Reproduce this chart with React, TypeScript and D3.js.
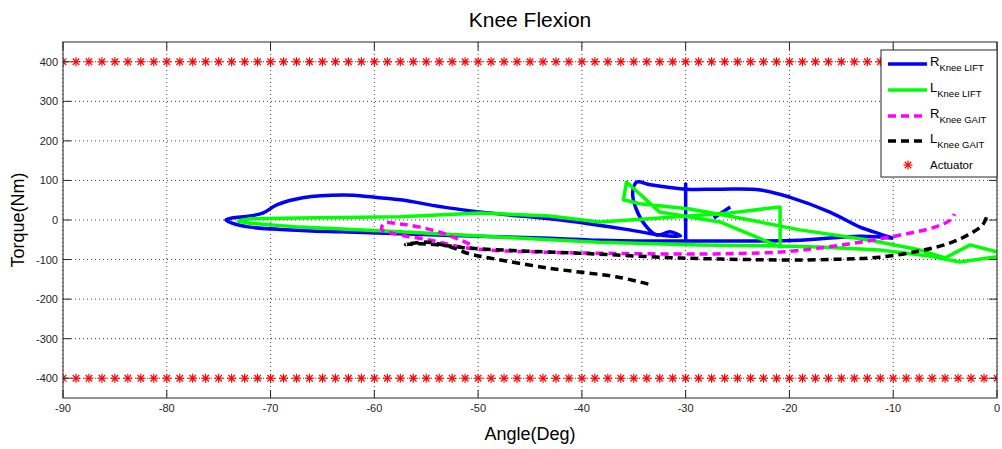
import React from 'react';
import * as d3 from 'd3';

// Knee flexion: torque (Nm) vs angle (deg)
const xTicks = [-90, -80, -70, -60, -50, -40, -30, -20, -10, 0];
const yTicks = [400, 300, 200, 100, 0, -100, -200, -300, -400];

const rKneeLift: [number, number][] = [
  [-10.0, -46], [-13.2, -41], [-19.0, -51], [-23.8, -53], [-28.6, -53], [-33.4, -53],
  [-38.3, -51], [-43.1, -46], [-49.8, -41], [-57.5, -35], [-63.3, -30], [-68.1, -25],
  [-72.0, -18], [-73.7, -8], [-74.3, 0], [-73.7, 5], [-72.0, 10], [-70.7, 18],
  [-69.4, 38], [-66.9, 56], [-63.0, 63], [-60.1, 58], [-57.5, 51], [-52.7, 30],
  [-47.9, 15], [-43.1, 3], [-39.2, -10], [-35.4, -25], [-32.5, -38], [-30.5, -41],
  [-31.5, -30], [-32.8, -38], [-33.9, -13], [-34.8, 30], [-35.1, 71], [-34.7, 96],
  [-33.4, 89], [-30.0, 78], [-26.7, 78], [-22.8, 76], [-20.0, 58], [-16.1, 20],
  [-13.2, -18], [-11.3, -35], [-10.0, -46],
];
const rKneeLiftSpike: [number, number][] = [[-30.0, 94], [-30.0, -50]];
const rKneeLiftStub: [number, number][] = [[-27.3, 5], [-25.7, 33]];

const lKneeLift: [number, number][] = [
  [0.5, -91], [-3.6, -106], [-6.5, -91], [-11.3, -76], [-17.1, -68], [-20.9, -66],
  [-28.6, -63], [-38.3, -56], [-47.9, -43], [-57.5, -30], [-67.2, -18], [-72.0, -8],
  [-73.1, -3], [-72.0, 3], [-67.2, 5], [-57.5, 8], [-49.8, 18], [-43.1, 10],
  [-38.3, -5], [-32.5, 5], [-25.7, 18], [-20.9, 33], [-20.9, -68], [-26.7, -5],
  [-32.5, 20], [-35.7, 96], [-36.0, 51], [-34.4, 41], [-29.6, 28], [-24.8, 5],
  [-19.0, -25], [-12.2, -51], [-7.4, -76], [-5.0, -96], [-2.6, -63], [0.5, -84],
];

const rKneeGait: [number, number][] = [
  [-50.8, -61], [-53.2, -35], [-55.6, -18], [-57.5, -10], [-59.0, -8], [-59.3, -23],
  [-58.0, -35], [-54.6, -51], [-51.7, -68], [-48.9, -76], [-44.0, -81], [-38.3, -84],
  [-28.6, -86], [-20.9, -81], [-17.1, -71], [-13.2, -56], [-9.3, -38], [-6.0, -18],
  [-4.5, 0], [-4.1, 15],
];

const lKneeGait: [number, number][] = [
  [-33.6, -162], [-36.6, -144], [-43.1, -122], [-48.9, -96], [-50.8, -86], [-52.7, -68],
  [-54.9, -56], [-57.0, -62], [-55.5, -60], [-52.7, -66], [-50.8, -71], [-46.0, -78],
  [-40.2, -84], [-30.5, -96], [-20.0, -101], [-15.1, -99], [-11.3, -94], [-7.4, -78],
  [-4.5, -58], [-2.6, -35], [-1.4, -13], [-1.0, 8],
];

const actuatorLevels = [400, -400];
const actuatorAngles = [
  -90, -88.75, -87.5, -86.25, -85, -83.75, -82.5, -81.25, -80, -78.75, -77.5, -76.25,
  -75, -73.75, -72.5, -71.25, -70, -68.75, -67.5, -66.25, -65, -63.75, -62.5, -61.25,
  -60, -58.75, -57.5, -56.25, -55, -53.75, -52.5, -51.25, -50, -48.75, -47.5, -46.25,
  -45, -43.75, -42.5, -41.25, -40, -38.75, -37.5, -36.25, -35, -33.75, -32.5, -31.25,
  -30, -28.75, -27.5, -26.25, -25, -23.75, -22.5, -21.25, -20, -18.75, -17.5, -16.25,
  -15, -13.75, -12.5, -11.25, -10, -8.75, -7.5, -6.25, -5, -3.75, -2.5, -1.25, 0,
];

const FONT = 'Liberation Sans, Arial, Helvetica, sans-serif';

function Star({ x, y, r = 4.5 }: { x: number; y: number; r?: number }) {
  const d = r * 0.72;
  return (
    <g stroke="#ff0000" strokeWidth={1.2}>
      <line x1={x - r} y1={y} x2={x + r} y2={y} />
      <line x1={x} y1={y - r} x2={x} y2={y + r} />
      <line x1={x - d} y1={y - d} x2={x + d} y2={y + d} />
      <line x1={x - d} y1={y + d} x2={x + d} y2={y - d} />
    </g>
  );
}

export default function App() {
  const W = 1002, H = 449;
  const L = 63, R = 997, T = 42, B = 398;

  const x = d3.scaleLinear().domain([-90, 0]).range([L, R]);
  const y = d3.scaleLinear().domain([-450, 450]).range([B, T]);
  const smooth = d3.line<[number, number]>().x(d => x(d[0])).y(d => y(d[1]))
    .curve(d3.curveCatmullRom.alpha(0.5));
  const straight = d3.line<[number, number]>().x(d => x(d[0])).y(d => y(d[1]));

  const series = [
    { key: 'rl', data: [rKneeLift, rKneeLiftSpike, rKneeLiftStub], color: '#0000ff', dash: undefined, curve: smooth },
    { key: 'll', data: [lKneeLift], color: '#00ff00', dash: undefined, curve: straight },
    { key: 'rg', data: [rKneeGait], color: '#ff00ff', dash: '8 5', curve: smooth },
    { key: 'lg', data: [lKneeGait], color: '#000000', dash: '8 5', curve: smooth },
  ];

  const legend = [
    { main: 'R', sub: 'Knee LIFT', color: '#0000ff', dash: undefined, y: 64 },
    { main: 'L', sub: 'Knee LIFT', color: '#00ff00', dash: undefined, y: 90 },
    { main: 'R', sub: 'Knee GAIT', color: '#ff00ff', dash: '8 5', y: 116 },
    { main: 'L', sub: 'Knee GAIT', color: '#000000', dash: '8 5', y: 141 },
  ];

  return (
    <div style={{ position: 'absolute', left: 0, top: 0 }}>
      <svg width={W} height={H} style={{ display: 'block', background: '#fff' }} fontFamily={FONT}>
        <defs>
          <clipPath id="plot">
            <rect x={L} y={T} width={R - L} height={B - T} />
          </clipPath>
        </defs>
        <rect x={L} y={T} width={R - L} height={B - T} fill="#fff" />

        {/* grid */}
        <g stroke="#444" strokeWidth={1} strokeDasharray="1 3">
          {xTicks.map(t => (
            <line key={'gx' + t} x1={x(t)} x2={x(t)} y1={T} y2={B} />
          ))}
          {yTicks.map(t => (
            <line key={'gy' + t} x1={L} x2={R} y1={y(t)} y2={y(t)} />
          ))}
        </g>

        {/* data */}
        <g clipPath="url(#plot)" fill="none" strokeLinejoin="round">
          {series.map(s =>
            s.data.map((pts, i) => (
              <path key={s.key + i} d={(pts.length > 2 ? s.curve(pts) : straight(pts)) ?? ''}
                stroke={s.color} strokeWidth={3.5} strokeDasharray={s.dash} />
            ))
          )}
          {actuatorLevels.map(lv =>
            actuatorAngles.map(a => <Star key={lv + '_' + a} x={x(a)} y={y(lv)} />)
          )}
        </g>

        {/* axes box and ticks */}
        <rect x={L} y={T} width={R - L} height={B - T} fill="none" stroke="#262626" strokeWidth={1} />
        <g stroke="#262626" strokeWidth={1}>
          {xTicks.map(t => (
            <g key={'tx' + t}>
              <line x1={x(t)} x2={x(t)} y1={B} y2={B - 8} />
              <line x1={x(t)} x2={x(t)} y1={T} y2={T + 8} />
            </g>
          ))}
          {yTicks.map(t => (
            <g key={'ty' + t}>
              <line x1={L} x2={L + 8} y1={y(t)} y2={y(t)} />
              <line x1={R} x2={R - 8} y1={y(t)} y2={y(t)} />
            </g>
          ))}
        </g>
        <g fontSize={11} fill="#262626">
          {xTicks.map(t => (
            <text key={'lx' + t} x={x(t)} y={B + 14} textAnchor="middle">{t}</text>
          ))}
          {yTicks.map(t => (
            <text key={'ly' + t} x={L - 5} y={y(t) + 4} textAnchor="end">{t}</text>
          ))}
        </g>

        {/* titles */}
        <text x={(L + R) / 2} y={27} textAnchor="middle" fontSize={21} fill="#000">Knee Flexion</text>
        <text x={(L + R) / 2} y={440} textAnchor="middle" fontSize={18} fill="#000">Angle(Deg)</text>
        <text transform={`translate(24, ${(T + B) / 2}) rotate(-90)`} textAnchor="middle" fontSize={18}
          fill="#000">Torque(Nm)</text>

        {/* legend */}
        <g>
          <rect x={881} y={50} width={116} height={127} fill="#fff" stroke="#262626" strokeWidth={1} />
          {legend.map((l, i) => (
            <g key={'lg' + i}>
              <line x1={888} x2={927} y1={l.y} y2={l.y} stroke={l.color} strokeWidth={3.5}
                strokeDasharray={l.dash} />
              <text x={930} y={l.y + 2} fontSize={13} fill="#000">
                {l.main}
                <tspan fontSize={9.5} dy={5}>{l.sub}</tspan>
              </text>
            </g>
          ))}
          <Star x={908} y={165} />
          <text x={930} y={169} fontSize={11.5} fill="#000">Actuator</text>
        </g>
      </svg>
    </div>
  );
}
